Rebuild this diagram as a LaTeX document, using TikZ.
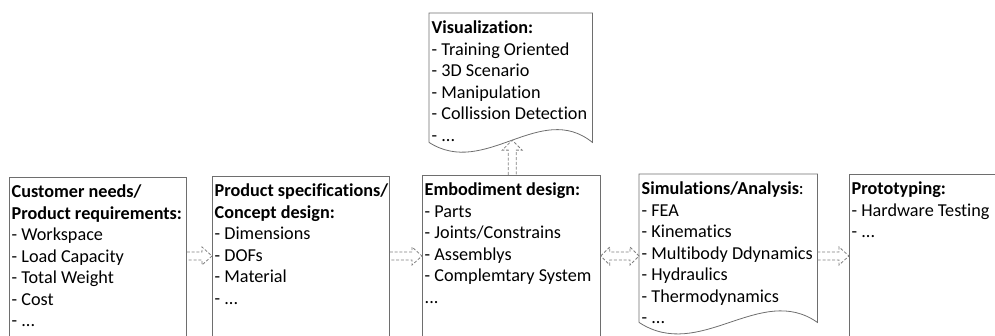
\documentclass[tikz,border=0pt]{standalone}
\usepackage{fontspec}
\setmainfont{Carlito}[Ligatures=NoCommon]
\usetikzlibrary{calc}

\definecolor{boxgray}{HTML}{6E6E6E}
\definecolor{arrowgray}{HTML}{808080}

\tikzset{
  stage/.style={draw=boxgray, line width=0.8pt, inner sep=0pt, anchor=north west},
  docarea/.style={inner sep=0pt, anchor=north west},
  docline/.style={draw=boxgray, line width=0.8pt},
  txt/.style={inner sep=0pt, anchor=base west, font=\fontsize{18.2}{21.5}\selectfont},
  blockarrow/.style={draw=arrowgray, line width=0.8pt, dash pattern=on 3pt off 1.8pt},
}

% hollow block arrow pointing right, from a tail point to a tip point
\newcommand\rightblock[2]{%
  \draw[blockarrow] let \p1=(#1), \p2=(#2) in
    (\x1,\y1+4pt) -- (\x2-10pt,\y1+4pt) -- (\x2-10pt,\y1+9pt) -- (\x2,\y1)
    -- (\x2-10pt,\y1-9pt) -- (\x2-10pt,\y1-4pt) -- (\x1,\y1-4pt);}
% hollow block arrow with heads at both ends
\newcommand\bothblock[2]{%
  \draw[blockarrow] let \p1=(#1), \p2=(#2) in
    (\x1,\y1) -- (\x1+9pt,\y1+9pt) -- (\x1+9pt,\y1+4pt) -- (\x2-9pt,\y1+4pt)
    -- (\x2-9pt,\y1+9pt) -- (\x2,\y1) -- (\x2-9pt,\y1-9pt) -- (\x2-9pt,\y1-4pt)
    -- (\x1+9pt,\y1-4pt) -- (\x1+9pt,\y1-9pt) -- cycle;}
% hollow block arrow pointing up, from a tail point to a tip point
\newcommand\upblock[2]{%
  \draw[blockarrow] let \p1=(#1), \p2=(#2) in
    (\x1-4pt,\y1) -- (\x1-4pt,\y2-10pt) -- (\x1-10pt,\y2-10pt) -- (\x1,\y2)
    -- (\x1+10pt,\y2-10pt) -- (\x1+4pt,\y2-10pt) -- (\x1+4pt,\y1);}

\begin{document}
\begin{tikzpicture}[x=1pt, y=-1pt]
\useasboundingbox (0,0) rectangle (995,336);

% process stages (open at the bottom edge)
\node[stage, minimum width=177pt, minimum height=175pt] (needs) at (9,177) {};
\node[stage, minimum width=177pt, minimum height=175pt] (spec) at (212,176) {};
\node[stage, minimum width=178pt, minimum height=175pt] (embod) at (422,175) {};
\node[stage, minimum width=170pt, minimum height=175pt] (proto) at (849,174) {};

% document-shaped stages
\node[docarea, minimum width=178pt, minimum height=148pt] (sim) at (639,174) {};
\draw[docline] (sim.south west) -- (sim.north west) -- (sim.north east) -- (sim.south east)
  .. controls ($(sim.south east)+(-57,-40)$) and ($(sim.south west)+(61,40)$) .. (sim.south west);

\node[docarea, minimum width=163pt, minimum height=129pt] (vis) at (429,13) {};
\draw[docline] (vis.south west) -- (vis.north west) -- (vis.north east) -- (vis.south east)
  .. controls ($(vis.south east)+(-52,-42)$) and ($(vis.south west)+(56,36)$) .. (vis.south west)
  coordinate[pos=0.5] (viswave);

% texts
\node[txt] (needs text) at ($(needs.north west)+(2.5,20.8)$) {\parbox[t]{200pt}{%
  \textbf{Customer needs/}\\\textbf{Product requirements:}\\- Workspace\\- Load Capacity\\%
  - Total Weight\\- Cost\\- ...}};
\node[txt] (spec text) at ($(spec.north west)+(2.5,20.8)$) {\parbox[t]{200pt}{%
  \textbf{Product specifications/}\\\textbf{Concept design:}\\- Dimensions\\- DOFs\\%
  - Material\\- ...}};
\node[txt] (embod text) at ($(embod.north west)+(2.5,20.8)$) {\parbox[t]{200pt}{%
  \textbf{Embodiment design:}\\- Parts\\- Joints/Constrains\\- Assemblys\\%
  - Complemtary System\\...}};
\node[txt] (sim text) at ($(sim.north west)+(2.5,20.8)$) {\parbox[t]{200pt}{%
  \textbf{Simulations/Analysis}:\\- FEA\\- Kinematics\\- Multibody Ddynamics\\%
  - Hydraulics\\- Thermodynamics\\- ...}};
\node[txt] (proto text) at ($(proto.north west)+(2.5,20.8)$) {\parbox[t]{200pt}{%
  \textbf{Prototyping:}\\- Hardware Testing\\- ...}};
\node[txt] (vis text) at ($(vis.north west)+(2.5,20.8)$) {\parbox[t]{200pt}{%
  \textbf{Visualization:}\\- Training Oriented\\- 3D Scenario\\- Manipulation\\%
  - Collission Detection\\- ...}};

% flow arrows
\coordinate (row) at (0,256);
\rightblock{needs.east |- row}{spec.west |- row}
\rightblock{spec.east |- row}{embod.west |- row}
\bothblock{embod.east |- row}{sim.west |- row}
\rightblock{sim.east |- row}{proto.west |- row}
\upblock{viswave |- embod.north}{viswave}
\end{tikzpicture}
\end{document}
